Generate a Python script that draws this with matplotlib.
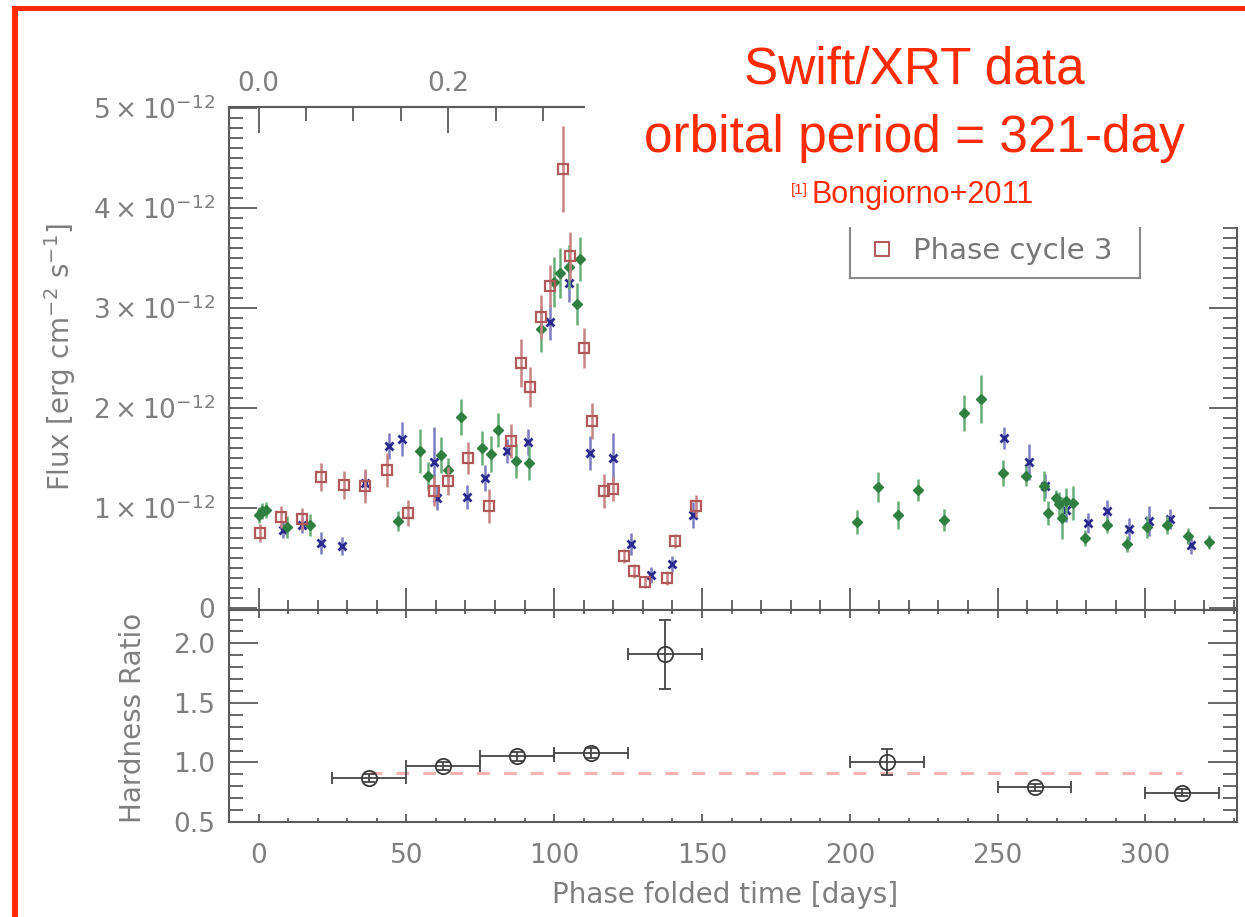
import matplotlib
matplotlib.use('Agg')
import matplotlib.pyplot as plt
from matplotlib.ticker import MultipleLocator, FuncFormatter
from matplotlib.patches import Rectangle
from matplotlib.lines import Line2D

# ---------------- data (flux in units of 1e-12 erg cm^-2 s^-1) ----------------
PERIOD = 321.0

c1_day = [8.3, 14.6, 21.0, 28.3, 36.1, 44.1, 48.5, 59.3, 60.4, 70.5, 76.7, 84.1, 91.2,
          98.7, 105.0, 112.2, 119.9, 126.1, 132.8, 139.9, 147.1, 252.2, 260.6, 266.0,
          273.0, 280.7, 287.1, 294.4, 301.2, 308.3, 315.3]
c1_flux = [0.78, 0.83, 0.65, 0.62, 1.25, 1.62, 1.69, 1.46, 1.10, 1.11, 1.30, 1.57, 1.66,
           2.86, 3.25, 1.55, 1.50, 0.64, 0.33, 0.44, 0.93, 1.70, 1.46, 1.22,
           0.98, 0.85, 0.97, 0.79, 0.87, 0.89, 0.63]
c1_err = [0.08, 0.08, 0.11, 0.09, 0.12, 0.13, 0.17, 0.35, 0.12, 0.12, 0.13, 0.12, 0.13,
          0.18, 0.19, 0.17, 0.25, 0.11, 0.08, 0.08, 0.13, 0.11, 0.18, 0.12,
          0.12, 0.10, 0.11, 0.11, 0.15, 0.10, 0.09]

c2_day = [0.0, 1.2, 2.5, 9.7, 17.3, 47.1, 54.5, 57.3, 61.8, 64.2, 68.5, 75.5, 78.6, 80.9,
          87.1, 91.5, 95.7, 99.8, 101.9, 105.0, 107.7, 108.6, 202.3, 209.4, 216.4, 223.2,
          231.9, 238.5, 244.3, 251.9, 259.5, 265.7, 267.2, 269.7, 270.8, 271.7, 273.2,
          275.6, 279.6, 287.1, 293.9, 300.6, 307.4, 314.5, 321.5]
c2_flux = [0.93, 0.97, 0.98, 0.81, 0.83, 0.87, 1.57, 1.32, 1.53, 1.38, 1.91, 1.60, 1.54, 1.78,
           1.47, 1.45, 2.79, 3.26, 3.35, 3.41, 3.04, 3.49, 0.86, 1.21, 0.93, 1.18,
           0.88, 1.95, 2.09, 1.35, 1.32, 1.22, 0.95, 1.10, 1.04, 0.90, 1.07,
           1.05, 0.70, 0.83, 0.64, 0.81, 0.83, 0.72, 0.66]
c2_err = [0.08, 0.08, 0.08, 0.11, 0.11, 0.10, 0.22, 0.14, 0.18, 0.12, 0.18, 0.17, 0.18, 0.17,
          0.17, 0.17, 0.23, 0.25, 0.25, 0.22, 0.21, 0.22, 0.12, 0.15, 0.14, 0.11,
          0.11, 0.18, 0.24, 0.13, 0.10, 0.15, 0.12, 0.08, 0.12, 0.21, 0.13,
          0.17, 0.08, 0.08, 0.08, 0.11, 0.09, 0.08, 0.07]

c3_day = [0.4, 7.5, 14.7, 21.2, 28.9, 35.9, 43.5, 50.5, 59.2, 64.2, 70.8, 78.1, 85.4, 88.7,
          91.7, 95.4, 98.5, 103.0, 105.5, 110.0, 112.9, 116.7, 119.9, 123.5, 126.9, 130.6,
          138.1, 141.0, 148.0]
c3_flux = [0.75, 0.91, 0.89, 1.31, 1.23, 1.22, 1.38, 0.95, 1.17, 1.27, 1.50, 1.02, 1.67, 2.45,
           2.21, 2.91, 3.22, 4.39, 3.52, 2.60, 1.87, 1.17, 1.19, 0.52, 0.37, 0.26,
           0.30, 0.67, 1.02]
c3_err = [0.09, 0.11, 0.11, 0.14, 0.14, 0.17, 0.17, 0.13, 0.15, 0.14, 0.16, 0.17, 0.17, 0.24,
          0.20, 0.22, 0.21, 0.43, 0.24, 0.20, 0.18, 0.17, 0.12, 0.07, 0.07, 0.06,
          0.07, 0.07, 0.11]

hr_day = [37.5, 62.5, 87.5, 112.5, 137.5, 212.5, 262.5, 312.5]
hr_val = [0.87, 0.97, 1.05, 1.08, 1.91, 1.005, 0.79, 0.745]
hr_yerr = [0.03, 0.03, 0.035, 0.04, 0.29, 0.11, 0.03, 0.03]
hr_xerr = [12.5, 12.5, 12.5, 12.5, 12.5, 12.5, 12.5, 12.5]
hr_mean = 0.914
hr_mean_span = [37.5, 312.5]

legend_label = 'Phase cycle 3'

# ---------------- figure ----------------
W, H = 1245, 917
fig = plt.figure(figsize=(W / 100, H / 100), dpi=100)
fig.patch.set_facecolor('white')


def fx(px):
    return px / W


def fy(py):
    return 1 - py / H


L, R = 229, 1237
T1, B1, B2 = 107, 610, 822
ax1 = fig.add_axes([fx(L), fy(B1), (R - L) / W, (B1 - T1) / H])
ax2 = fig.add_axes([fx(L), fy(B2), (R - L) / W, (B2 - B1) / H], sharex=ax1)

GRAY = '#7f7f7f'
SPINE = '#5a5a5a'
TICKFONT = 19

for ax in (ax1, ax2):
    for s in ax.spines.values():
        s.set_color(SPINE)
        s.set_linewidth(1.5)

# colours
BLUE, BLUE_E = '#2a2a8e', '#7c7cc0'
GREEN, GREEN_E = '#2f7f40', '#68ad76'
RED, RED_E = '#b0585a', '#c88485'

ax1.errorbar(c1_day, c1_flux, yerr=c1_err, fmt='x', color=BLUE, ms=6, mew=2.0,
             ecolor=BLUE_E, elinewidth=1.8, capsize=0, zorder=3)
ax1.errorbar(c2_day, c2_flux, yerr=c2_err, fmt='D', color=GREEN, ms=5, mew=1.0,
             ecolor=GREEN_E, elinewidth=1.8, capsize=0, zorder=4)
ax1.errorbar(c3_day, c3_flux, yerr=c3_err, fmt='s', color=RED, mfc='none', ms=7.5, mew=1.6,
             ecolor=RED_E, elinewidth=1.8, capsize=0, zorder=5)

ax1.set_xlim(-10, 331)
ax1.set_ylim(-0.02, 5.01)

ax1.xaxis.set_major_locator(MultipleLocator(50))
ax1.xaxis.set_minor_locator(MultipleLocator(10))
ax1.yaxis.set_major_locator(MultipleLocator(1))
ax1.yaxis.set_minor_locator(MultipleLocator(0.1))
ax1.yaxis.set_major_formatter(FuncFormatter(
    lambda v, p: '0' if abs(v) < 1e-6 else r'$%d\times10^{-12}$' % round(v)))

ax1.tick_params(axis='x', which='both', direction='in', bottom=True, top=False,
                labelbottom=False, color=SPINE, width=1.3)
ax1.tick_params(axis='x', which='major', length=16)
ax1.tick_params(axis='x', which='minor', length=7)
ax1.tick_params(axis='y', which='both', direction='in', left=True, right=True,
                color=SPINE, width=1.3, labelsize=TICKFONT, labelcolor=GRAY, pad=10)
ax1.tick_params(axis='y', which='major', length=20)
ax1.tick_params(axis='y', which='minor', length=10)

sec = ax1.secondary_xaxis('top', functions=(lambda d: d / PERIOD, lambda p: p * PERIOD))
sec.xaxis.set_major_locator(MultipleLocator(0.2))
sec.xaxis.set_minor_locator(MultipleLocator(0.05))
# labels beyond 0.2 are hidden behind the slide's title box in the reference
sec.xaxis.set_major_formatter(FuncFormatter(lambda v, p: '%.1f' % v if v < 0.3 else ''))
sec.tick_params(axis='x', which='both', direction='in', color=SPINE, width=1.3,
                labelsize=TICKFONT, labelcolor=GRAY, pad=7)
sec.tick_params(axis='x', which='major', length=19)
sec.tick_params(axis='x', which='minor', length=10)
sec.spines['top'].set_color(SPINE)
sec.spines['top'].set_linewidth(1.5)

# legend (upper part covered by the title box, as in the slide)
handle = Line2D([], [], ls='none', marker='s', color=RED, mfc='none', ms=10, mew=1.4)
leg = ax1.legend([handle], [legend_label], loc='center left',
                 bbox_to_anchor=(fx(862), fy(251)), bbox_transform=fig.transFigure,
                 fontsize=21, frameon=False, handletextpad=0.35,
                 handlelength=1.4, borderpad=0, borderaxespad=0)
for t in leg.get_texts():
    t.set_color('#777777')
fig.add_artist(Rectangle((fx(850), fy(278)), (1140 - 850) / W, (278 - 200) / H,
                         transform=fig.transFigure, facecolor='none',
                         edgecolor='#8a8a8a', linewidth=1.5, zorder=5))

# ---------------- hardness panel ----------------
ax2.plot(hr_mean_span, [hr_mean, hr_mean], color='#f3b3b3', lw=2.2,
         ls=(0, (4.2, 4.6)), zorder=1)
ax2.errorbar(hr_day, hr_val, xerr=hr_xerr, yerr=hr_yerr, fmt='o', mfc='none',
             mec='#3a3a3a', ms=11, mew=1.3, ecolor='#454545', elinewidth=1.3,
             capsize=4, capthick=1.3, zorder=3)
ax2.set_ylim(0.5, 2.28)
ax2.yaxis.set_major_locator(MultipleLocator(0.5))
ax2.yaxis.set_minor_locator(MultipleLocator(0.1))
ax2.yaxis.set_major_formatter(FuncFormatter(lambda v, p: '%.1f' % v))
ax2.xaxis.set_minor_locator(MultipleLocator(10))
ax2.tick_params(axis='x', which='both', direction='in', bottom=True, top=True,
                color=SPINE, width=1.3, labelsize=TICKFONT, labelcolor=GRAY, pad=15)
ax2.tick_params(axis='x', which='major', length=6)
ax2.tick_params(axis='x', which='minor', length=3)
ax2.tick_params(axis='y', which='both', direction='in', left=True, right=True,
                color=SPINE, width=1.3, labelsize=TICKFONT, labelcolor=GRAY, pad=10)
ax2.tick_params(axis='y', which='major', length=21)
ax2.tick_params(axis='y', which='minor', length=10)

# axis labels
fig.text(fx(60), fy(357), r'Flux [erg cm$^{-2}$ s$^{-1}$]', rotation=90,
         ha='center', va='center', fontsize=20, color=GRAY)
fig.text(fx(133), fy(718), 'Hardness Ratio', rotation=90,
         ha='center', va='center', fontsize=20, color=GRAY)
fig.text(fx(725), fy(895), 'Phase folded time [days]',
         ha='center', va='center', fontsize=20, color=GRAY)

# ---------------- slide decorations ----------------
fig.add_artist(Rectangle((fx(585), fy(227)), (W - 585) / W, (227 - 11) / H,
                         transform=fig.transFigure, facecolor='white',
                         edgecolor='none', zorder=20))
BORDER = '#ff2a00'
fig.add_artist(Rectangle((fx(12), 0), 6 / W, fy(6), transform=fig.transFigure,
                         facecolor=BORDER, edgecolor='none', zorder=30))
fig.add_artist(Rectangle((fx(12), fy(11)), (W - 12) / W, 5 / H, transform=fig.transFigure,
                         facecolor=BORDER, edgecolor='none', zorder=30))

TXT = '#ff2a00'
fig.text(fx(914), fy(83), 'Swift/XRT data', ha='center', va='baseline',
         fontsize=37, color=TXT, family='Liberation Sans', zorder=31)
fig.text(fx(914), fy(152), 'orbital period = 321-day', ha='center', va='baseline',
         fontsize=37, color=TXT, family='Liberation Sans', zorder=31)
fig.text(fx(791), fy(194), '[1]', ha='left', va='baseline',
         fontsize=11, color=TXT, family='Liberation Sans', zorder=31)
fig.text(fx(811), fy(203), 'Bongiorno+2011', ha='left', va='baseline',
         fontsize=22, color=TXT, family='Liberation Sans', zorder=31)

fig.savefig('out.png', dpi=100, facecolor='white')
